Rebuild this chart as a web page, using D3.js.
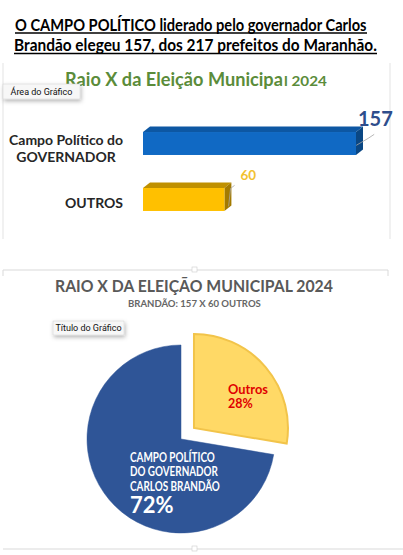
<!DOCTYPE html>
<html><head><meta charset="utf-8">
<script src="https://cdn.jsdelivr.net/npm/d3@7"></script>
<style>
body{margin:0;background:#fff;}
svg{display:block;font-family:Lato,"Open Sans",sans-serif;}
</style></head>
<body>
<svg id="c" width="403" height="555"></svg>
<script>
const headingLines = ["O CAMPO POLÍTICO liderado pelo governador Carlos", "Brandão elegeu 157, dos 217 prefeitos do Maranhão."];
const barTitle = ["Raio X da Eleição Municipa", "l 2024"];
const categories = ["Campo Político do GOVERNADOR", "OUTROS"];
const categoryLines = [["Campo Político do", "GOVERNADOR"], ["OUTROS"]];
const values = [157, 60];
const pieTitle = "RAIO X DA ELEIÇÃO MUNICIPAL 2024";
const pieSubtitle = "BRANDÃO: 157 X 60 OUTROS";
const pieLabels = [["CAMPO POLÍTICO", "DO GOVERNADOR", "CARLOS BRANDÃO"], ["Outros"]];
const piePercents = ["72%", "28%"];

const svg = d3.select("#c");
const defs = svg.append("defs");
const f = defs.append("filter").attr("id","sh").attr("x","-20%").attr("y","-30%").attr("width","150%").attr("height","190%");
f.append("feDropShadow").attr("dx",1).attr("dy",2).attr("stdDeviation",2).attr("flood-color","#000").attr("flood-opacity",0.3);

function fitText(parent, t, x0, y, w, attrs){
  const el = parent.append("text").attr("x",0).attr("y",0).text(t);
  Object.entries(attrs).forEach(([k,v])=>el.attr(k,v));
  const nat = el.node().getComputedTextLength();
  el.attr("transform",`translate(${x0},${y}) scale(${w/nat},1)`);
  return el;
}

// Heading
const hl = [{y:30.5, x0:15, x1:367}, {y:51, x0:14, x1:377}];
headingLines.forEach((t,i)=>{
  fitText(svg, t, hl[i].x0, hl[i].y, hl[i].x1-hl[i].x0, {"font-size":17.5,"font-weight":"bold","fill":"#000"});
  svg.append("line").attr("x1",hl[i].x0).attr("x2",hl[i].x1).attr("y1",hl[i].y+2.5).attr("y2",hl[i].y+2.5)
    .attr("stroke","#000").attr("stroke-width",1.3);
});

// Top chart frame
const fr = svg.append("g").attr("stroke","#e3e3e3").attr("fill","none");
fr.append("line").attr("x1",3).attr("x2",3).attr("y1",63).attr("y2",239);
fr.append("line").attr("x1",390).attr("x2",390).attr("y1",63).attr("y2",239);

// Bar title
fitText(svg, barTitle[0], 65, 86, 218, {"font-size":19.5,"font-weight":"bold","fill":"#5B8C3A"});
fitText(svg, barTitle[1], 284, 86, 43, {"font-size":14,"font-weight":"bold","fill":"#5B8C3A"});

// Bars
const x = d3.scaleLinear().domain([0, values[0]]).range([143, 356]);
const y = d3.scaleBand().domain(categories).range([115.5, 227.5]).paddingInner(0.59).paddingOuter(0.295);
const depth = {dx:7, dy:-5.5};
const barCols = [{front:"#1069C4", top:"#0D57A3", side:"#0A4784", label:"#2E4D8C", size:20},
                 {front:"#FFC000", top:"#BF9000", side:"#A37A00", label:"#F2C230", size:13.5}];
const bars = svg.append("g");
categories.forEach((c,i)=>{
  const x0 = x(0), x1 = x(values[i]), y0 = y(c), h = y.bandwidth();
  const col = barCols[i];
  const g = bars.append("g");
  g.append("path").attr("fill",col.top)
    .attr("d",`M${x0},${y0}L${x0+depth.dx},${y0+depth.dy}L${x1+depth.dx},${y0+depth.dy}L${x1},${y0}Z`);
  g.append("path").attr("fill",col.side)
    .attr("d",`M${x1},${y0}L${x1+depth.dx},${y0+depth.dy}L${x1+depth.dx},${y0+h+depth.dy}L${x1},${y0+h}Z`);
  g.append("rect").attr("x",x0).attr("y",y0).attr("width",x1-x0).attr("height",h).attr("fill",col.front);
  const lx = x1 + depth.dx*0.6, ly = y0 + h*0.45;
  g.append("path").attr("fill","none").attr("stroke","#a6a6a6").attr("stroke-width",0.8)
    .attr("d", i===0 ? `M${lx-4},${ly+3}L${lx+8},${ly-4}L${lx+14},${ly-8}` : `M${lx},${ly+8}L${lx+2},${ly-10}L${lx+6},${ly-13}`);
  g.append("text").attr("x", i===0 ? x1+2 : x1+16).attr("y", i===0 ? y0-6 : y0-8)
    .attr("font-size",col.size).attr("font-weight","bold").attr("fill",col.label).text(values[i]);
});

// Category labels
const catY = [[145,162],[208]];
categoryLines.forEach((lines,i)=>{
  const texts = lines.map((t,j)=> svg.append("text").attr("y",catY[i][j]).attr("font-size",14)
      .attr("font-weight","bold").attr("fill","#262626").text(t));
  const widths = texts.map(t=>t.node().getComputedTextLength());
  const maxW = Math.max(...widths);
  const right = 123;
  texts.forEach((t,j)=> t.attr("text-anchor","middle").attr("x", right - maxW/2));
});

function tooltip(x0,y0,w,h,t){
  svg.append("rect").attr("x",x0).attr("y",y0).attr("width",w).attr("height",h).attr("fill","#f7f7f7")
    .attr("stroke","#d0d0d0").attr("stroke-width",0.5).attr("filter","url(#sh)");
  svg.append("text").attr("x",x0+w/2).attr("y",y0+h/2+3.2).attr("text-anchor","middle").attr("font-size",9)
    .attr("fill","#111").attr("font-family","Roboto, sans-serif").text(t);
}
tooltip(3,84,77,15,"Área do Gráfico");

// Bottom chart frame
const fb = svg.append("g").attr("stroke","#d9d9d9").attr("fill","none");
fb.append("path").attr("d","M3,276L3,270L388,270L388,276");
fb.append("line").attr("x1",3).attr("x2",403).attr("y1",549).attr("y2",549);
svg.append("rect").attr("x",192).attr("y",267).attr("width",5).attr("height",5).attr("fill","#fff").attr("stroke","#ccc").attr("stroke-width",0.6);
svg.append("rect").attr("x",192).attr("y",546).attr("width",5).attr("height",5).attr("fill","#fff").attr("stroke","#ccc").attr("stroke-width",0.6);

fitText(svg, pieTitle, 55, 292, 278, {"font-size":17.5,"font-weight":"bold","fill":"#595959"});
fitText(svg, pieSubtitle, 128, 306.5, 133, {"font-size":10,"font-weight":"bold","fill":"#666"});

// Pie
const cx = 181, cy = 439, R = 94;
const pieData = categories.map((c,i)=>({c, v:values[i], i})).reverse();
const pie = d3.pie().sort(null).value(d=>d.v).startAngle(0);
const arcs = pie(pieData);
const arc = d3.arc().innerRadius(0).outerRadius(R);
const pcols = [{fill:"#2F5597", stroke:"#2F5597"}, {fill:"#FFD966", stroke:"#F2C44A"}];
const pg = svg.append("g").attr("transform",`translate(${cx},${cy})`);
arcs.forEach(a=>{
  const explode = a.data.i===1 ? 17 : 0;
  const mid = (a.startAngle + a.endAngle)/2;
  const ox = Math.sin(mid)*explode, oy = -Math.cos(mid)*explode;
  pg.append("path").attr("d",arc(a)).attr("transform",`translate(${ox},${oy})`)
    .attr("fill",pcols[a.data.i].fill).attr("stroke",pcols[a.data.i].stroke).attr("stroke-width",a.data.i===1?2:0.5);
});

const l1 = svg.append("g");
pieLabels[0].forEach((t,j)=> fitText(l1, t, 130, 462+j*14.3, [85,88,90][j], {"font-size":12.5,"font-weight":"bold","fill":"#fff"}));
l1.append("text").attr("x",130).attr("y",513).attr("font-size",22).attr("font-weight","bold").attr("fill","#fff").text(piePercents[0]);
const l2 = svg.append("g");
fitText(l2, pieLabels[1][0], 228, 394, 40, {"font-size":12.5,"font-weight":"bold","fill":"#E00000"});
l2.append("text").attr("x",228).attr("y",408).attr("font-size",12.5).attr("font-weight","bold").attr("fill","#E00000").text(piePercents[1]);

tooltip(53,321,71,14,"Título do Gráfico");
</script>
</body></html>
